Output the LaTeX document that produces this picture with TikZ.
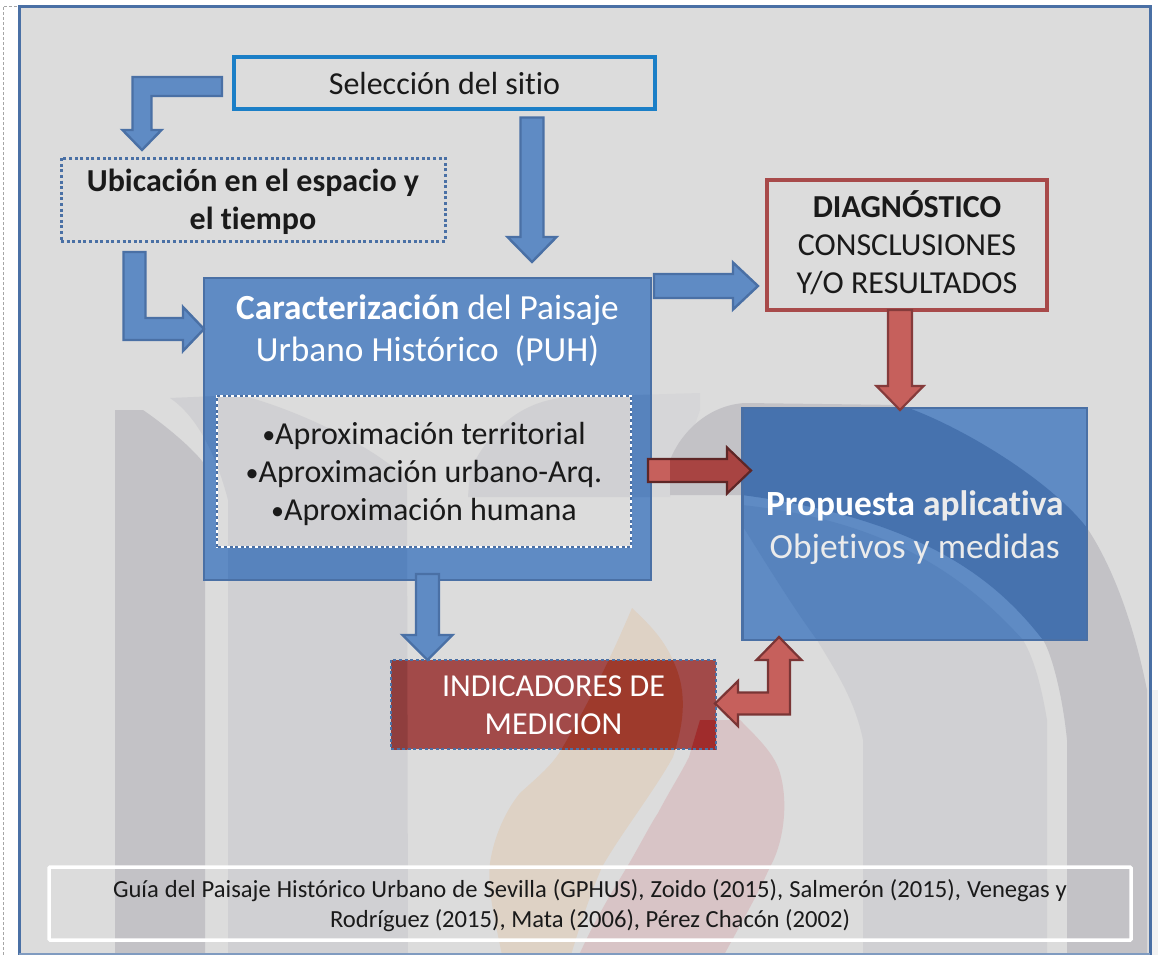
\documentclass[tikz,border=0pt]{standalone}
\usepackage{fontspec}
\setmainfont[Ligatures=NoCommon]{Carlito}
\usetikzlibrary{calc}
\definecolor{bgc}{HTML}{DCDCDC}
\definecolor{wmdark}{HTML}{C3C2C6}
\definecolor{wmlight}{HTML}{D0D0D3}
\definecolor{wmfaint}{HTML}{D6D6D8}
\definecolor{wmorange}{HTML}{DED2C5}
\definecolor{wmred}{HTML}{D8C4C6}
\definecolor{bluef}{HTML}{5F8BC4}
\definecolor{bluem}{HTML}{5783BD}
\definecolor{bluee}{HTML}{4A70A5}
\definecolor{bluedk}{HTML}{4672AE}
\definecolor{redf}{HTML}{C6605C}
\definecolor{rede}{HTML}{7A3535}
\definecolor{redee}{HTML}{5E2626}
\definecolor{redov}{HTML}{A84442}
\definecolor{selc}{HTML}{1B7FC7}
\definecolor{diac}{HTML}{A84A4A}
\definecolor{indf}{HTML}{A24A49}
\definecolor{indl}{HTML}{8F3E3E}
\definecolor{indo}{HTML}{9E3A2C}
\definecolor{indr}{HTML}{A02C2C}
\definecolor{txt}{HTML}{1A1A1A}
\def\wmDark{(670,495) -- (670,460) .. controls (682,430) and (710,405) .. (745,403) -- (900,405) .. controls (960,425) and (1050,480) .. (1087,528) .. controls (1115,570) and (1135,630) .. (1147,690) -- (1147,955) -- (1067,955) -- (1067,740) .. controls (1062,690) and (1050,650) .. (1043,640) .. controls (1000,585) and (930,520) .. (742,495) -- cycle}
\def\wmArch{(468,497) -- (470,470) .. controls (490,430) and (520,400) .. (570,397) -- (700,393) -- (700,410) -- (670,497) -- cycle}
\def\wmLeftD{(115,410) -- (143,410) .. controls (165,425) and (195,450) .. (205,465) -- (205,955) -- (115,955) -- cycle}
\def\wmLeftL{(170,398) -- (240,395) .. controls (300,410) and (380,450) .. (407,480) -- (408,955) -- (228,955) -- (228,500) .. controls (215,450) and (195,415) .. (170,398) -- cycle}
\def\wmRightL{(817,640) .. controls (835,670) and (855,700) .. (863,740) -- (863,955) -- (1047,955) -- (1047,720) .. controls (1042,690) and (1035,660) .. (1023,640) .. controls (960,570) and (880,520) .. (742,505) -- (742,525) .. controls (770,570) and (795,610) .. (817,640) -- cycle}
\def\wmOrange{(632,608) .. controls (650,625) and (665,640) .. (675,665) .. controls (690,700) and (680,735) .. (673,757) .. controls (655,790) and (620,835) .. (602,867) .. controls (590,895) and (580,925) .. (571,955) -- (502,955) .. controls (495,920) and (487,890) .. (490,863) .. controls (495,830) and (510,805) .. (520,793) .. controls (540,775) and (552,765) .. (561,750) .. controls (585,710) and (610,660) .. (632,608) -- cycle}
\def\wmRed{(700,720) -- (740,720) .. controls (760,740) and (775,755) .. (780,773) .. controls (788,800) and (785,840) .. (770,867) .. controls (755,900) and (740,925) .. (724,955) -- (579,955) .. controls (595,920) and (610,895) .. (627,867) .. controls (640,845) and (650,825) .. (658,813) .. controls (670,790) and (680,775) .. (689,757) -- cycle}
\newcommand\tint[2]{\begin{scope}[shift={(O)}]\fill[#1] #2;\end{scope}}
\newcommand\boxbg[3]{\fill[#2] #1; \begin{scope}\clip #1; #3 \end{scope}}
\newcommand\arrDown[6]{\draw[#1] let \p1=(#2),\p2=(#3) in (\x1-#4,\y1)--(\x1+#4,\y1)--(\x1+#4,\y2+#6)--(\x1+#5,\y2+#6)--(\x2,\y2)--(\x1-#5,\y2+#6)--(\x1-#4,\y2+#6)--cycle;}
\newcommand\arrRight[6]{\draw[#1] let \p1=(#2),\p2=(#3) in (\x1,\y1+#4)--(\x1,\y1-#4)--(\x2-#6,\y1-#4)--(\x2-#6,\y1-#5)--(\x2,\y1)--(\x2-#6,\y1+#5)--(\x2-#6,\y1+#4)--cycle;}
\newcommand\arrLeftDown[6]{\draw[#1] let \p1=(#2),\p2=(#3) in (\x1,\y1+#4)--(\x2-#4,\y1+#4)--(\x2-#4,\y2+#6)--(\x2-#5,\y2+#6)--(\x2,\y2)--(\x2+#5,\y2+#6)--(\x2+#4,\y2+#6)--(\x2+#4,\y1-#4)--(\x1,\y1-#4)--cycle;}
\newcommand\arrDownRight[6]{\draw[#1] let \p1=(#2),\p2=(#3) in (\x1-#4,\y1)--(\x1-#4,\y2-#4)--(\x2-#6,\y2-#4)--(\x2-#6,\y2-#5)--(\x2,\y2)--(\x2-#6,\y2+#5)--(\x2-#6,\y2+#4)--(\x1+#4,\y2+#4)--(\x1+#4,\y1)--cycle;}
\newcommand\arrBoth[6]{\draw[#1] let \p1=(#2),\p2=(#3) in (\x2,\y2)--(\x2+#5,\y2-#6)--(\x2+#4,\y2-#6)--(\x2+#4,\y1-#4)--(\x1+#6,\y1-#4)--(\x1+#6,\y1-#5)--(\x1,\y1)--(\x1+#6,\y1+#5)--(\x1+#6,\y1+#4)--(\x2-#4,\y1+#4)--(\x2-#4,\y2-#6)--(\x2-#5,\y2-#6)--cycle;}
\newcommand\smallbul{{\fontsize{26}{38}\selectfont\raisebox{1pt}{•}}}
\tikzset{
  boxbase/.style={rectangle,inner sep=0pt,outer sep=0pt},
  lab/.style={rectangle,inner sep=0pt,outer sep=0pt,align=center,text=txt},
  bigtext/.style={font=\fontsize{32}{38}\selectfont},
  bluearrow/.style={fill=bluef,draw=bluee,line width=2.4pt,miter limit=10},
  redarrow/.style={fill=redf,draw=rede,line width=2.2pt,miter limit=10},
  dotline/.style={dash pattern=on 3pt off 2.6pt},
}
\begin{document}
\begin{tikzpicture}[x=1pt,y=-1pt]
\useasboundingbox (0,0) rectangle (1172,955);
\coordinate (O) at (0,0);
\fill[white] (0,0) rectangle (1172,955);
\draw[gray!70,dash pattern=on 3pt off 2pt,line width=0.8pt] (3,955) -- (3,6) -- (19,6);
\fill[black!5] (1152,690) rectangle (1158,955);
% frame and watermark
\fill[bgc] (19,7) rectangle (1150,955);
\fill[wmfaint] \wmArch;
\fill[wmlight] \wmLeftL;
\fill[wmdark] \wmLeftD;
\fill[wmlight] \wmRightL;
\fill[wmdark] \wmDark;
\fill[wmorange] \wmOrange;
\fill[wmred] \wmRed;
\draw[bluee,line width=3pt] (19,955) -- (19,7) -- (1150,7) -- (1150,955);
\draw[bluee!70,line width=1.5pt] (19,954.2) -- (1150,954.2);
% box backgrounds with the watermark showing through
\boxbg{(204,278) rectangle (651,580)}{bluef}{\fill[bluem] \wmLeftL; \fill[bluem] \wmDark; \fill[bluem] \wmArch;}
\boxbg{(217,396) rectangle (631,547)}{bgc}{\fill[wmlight] \wmLeftL; \fill[wmlight] \wmArch;}
\boxbg{(742.5,408) rectangle (1087,640)}{bluef}{\fill[bluem] \wmRightL; \fill[bluedk] \wmDark;}
\boxbg{(391,660) rectangle (716,749)}{indf}{\fill[indl] \wmLeftL; \fill[indo] \wmOrange; \fill[indr] \wmRed;}
% boxes
\node[boxbase,draw=selc,line width=4pt,minimum width=421pt,minimum height=52pt] (sel) at (444.5,83.5) {};
\node[boxbase,draw=bluee,line width=3pt,dotline,minimum width=384pt,minimum height=83pt] (ubi) at (253,199.5) {};
\node[boxbase,draw=bluee,line width=2.6pt,minimum width=447pt,minimum height=302pt] (car) at (427.5,429) {};
\node[boxbase,draw=white,line width=1.6pt,minimum width=414pt,minimum height=151pt] (apr) at (424,471.5) {};
\draw[bluee,line width=1.6pt,dotline] (apr.south west) rectangle (apr.north east);
\node[boxbase,draw=diac,line width=3.4pt,minimum width=280pt,minimum height=130pt] (dia) at (907,245) {};
\node[boxbase,draw=bluee,line width=2.6pt,minimum width=344.5pt,minimum height=232pt] (prop) at (914.75,524) {};
\node[boxbase,draw=bluee,line width=2.2pt,dotline,minimum width=325pt,minimum height=89pt] (ind) at (553.5,704.5) {};
\node[boxbase,draw=white,line width=3.5pt,rounded corners=1pt,minimum width=1082pt,minimum height=73pt] (foot) at (590,903.5) {};
% texts
\node[lab,bigtext] (selT) at ($(sel.center)+(0,0.5)$) {Selección del sitio};
\node[lab,bigtext] (ubiT) at ($(ubi.center)+(0,2)$) {\textbf{Ubicación en el espacio y}\\\textbf{el tiempo}};
\node[lab,text=white,font=\fontsize{35.3}{42}\selectfont] (carT) at ($(car.north)+(0,52.5)$) {\textbf{Caracterización} del Paisaje\\Urbano Histórico~~(PUH)};
\node[lab,bigtext] (aprT) at ($(apr.center)+(0,2)$) {\smallbul Aproximación territorial\\\smallbul Aproximación urbano-Arq.\\\smallbul Aproximación humana};
\node[lab,bigtext] (diaT) at ($(dia.center)+(0,-2)$) {\textbf{DIAGNÓSTICO}\\CONSCLUSIONES\\Y/O RESULTADOS};
\node[lab,text=white,font=\fontsize{35.4}{43}\selectfont] (propT) at ($(prop.center)+(0,4)$) {\textbf{Propuesta \textcolor{white!92!black}{aplicativa}}\\\textcolor{white!92!black}{Objetivos y medidas}};
\node[lab,text=white,bigtext] (indT) at ($(ind.center)+(0,1)$) {INDICADORES DE\\MEDICION};
\node[lab,font=\fontsize{24.6}{30}\selectfont] (footT) at ($(foot.center)+(0,2)$) {\makebox[954pt][s]{Guía del Paisaje Histórico Urbano de Sevilla (GPHUS), Zoido (2015), Salmerón (2015), Venegas y}\\Rodríguez (2015), Mata (2006), Pérez Chacón (2002)};
% arrows
\arrLeftDown{bluearrow}{$(sel.west)+(-12,3)$}{$(ubi.north)+(-111,-8)$}{9.5pt}{19.5pt}{20pt}
\arrDown{bluearrow}{$(sel.south)+(87.5,8)$}{$(car.north)+(104.5,-16)$}{11.5pt}{24.5pt}{25pt}
\arrDownRight{bluearrow}{$(ubi.south)+(-118.5,11)$}{$(car.west)+(0,-100)$}{11pt}{22pt}{21pt}
\arrRight{bluearrow}{$(car.east)+(3,-143)$}{$(dia.west)+(-9,41)$}{12pt}{23.5pt}{25pt}
\arrDown{bluearrow}{$(car.south)+(0,-6)$}{$(ind.north)+(-126,0)$}{11.5pt}{25pt}{25pt}
\arrDown{redarrow,draw=rede!85!redf}{$(dia.south)+(-7,0)$}{$(prop.north)+(-14.75,2)$}{12pt}{23.5pt}{24pt}
\arrRight{redarrow,draw=redee,path picture={\tint{redov}{\wmDark}}}{$(car.east)+(-3,41.5)$}{$(prop.west)+(8.5,-53.5)$}{11.5pt}{23pt}{24pt}
\arrBoth{redarrow}{$(ind.east)+(-1,-1)$}{$(prop.south)+(-135.75,-3)$}{11pt}{22.5pt}{23pt}
\end{tikzpicture}
\end{document}
